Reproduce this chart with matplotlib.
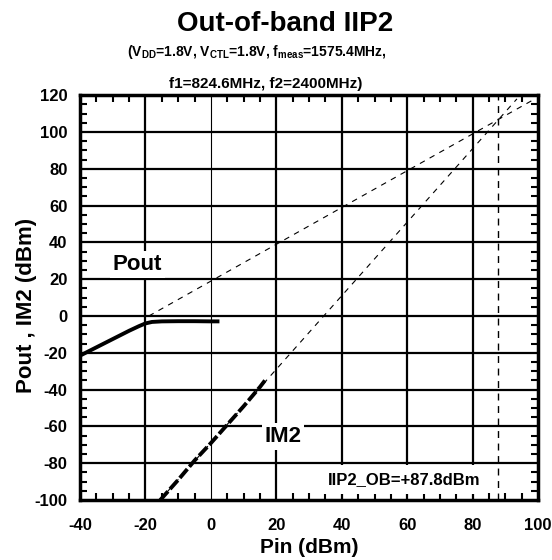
import numpy as np
import matplotlib.pyplot as plt
from matplotlib.ticker import MultipleLocator

plt.rcParams['font.family'] = ['Liberation Sans', 'DejaVu Sans']
plt.rcParams['font.weight'] = 'bold'
plt.rcParams['axes.unicode_minus'] = False
plt.rcParams['mathtext.fontset'] = 'custom'
plt.rcParams['mathtext.rm'] = 'Liberation Sans:bold'
plt.rcParams['mathtext.bf'] = 'Liberation Sans:bold'
plt.rcParams['mathtext.default'] = 'bf'

# --- Data ---
pout_pin = [-40, -35, -30, -25, -22, -20, -18, -15, -10, -5, 0, 2]
pout_meas = [-21.5, -17, -12.5, -8, -5.5, -4, -3.2, -2.9, -2.8, -2.8, -2.9, -2.9]

im2_pin = [-15.5, -10, -5, 0, 5, 10, 15, 16.5]
im2_meas = [-100, -89, -78.5, -69, -59, -49, -38.5, -35]

pout_ext_pin = [-19, 98]
pout_ext = [0, 117]
im2_ext_pin = [-15.6, 93.5]
im2_ext = [-100, 118]

iip2 = 87.8

# --- Plotting ---
fig = plt.figure(figsize=(5.52, 5.60), dpi=100)
ax = fig.add_axes([0.145, 0.107, 0.830, 0.723])

ax.set_xlim(-40, 100)
ax.set_ylim(-100, 120)
ax.xaxis.set_major_locator(MultipleLocator(20))
ax.xaxis.set_minor_locator(MultipleLocator(5))
ax.yaxis.set_major_locator(MultipleLocator(20))
ax.yaxis.set_minor_locator(MultipleLocator(5))

for v in range(-20, 100, 20):
    ax.axvline(v, color='black', lw=0.8 if v == 0 else 1.6, zorder=1)
for v in range(-80, 120, 20):
    ax.axhline(v, color='black', lw=1.6, zorder=1)

ax.tick_params(which='both', direction='in', top=True, right=True,
               labelsize=12, width=1.5)
ax.tick_params(which='major', length=0)
ax.tick_params(axis='x', which='major', pad=13)
ax.tick_params(axis='y', which='major', pad=9)
ax.tick_params(which='minor', length=5)
for s in ax.spines.values():
    s.set_linewidth(2.5)
    s.set_zorder(5)

ax.plot(pout_ext_pin, pout_ext, color='black', lw=0.8, ls=(0, (5, 5)), zorder=2)
ax.plot(im2_ext_pin, im2_ext, color='black', lw=0.8, ls=(0, (5, 5)), zorder=2)
ax.axvline(iip2, color='black', lw=1.0, ls=(0, (5, 4)), zorder=4)

ax.plot(pout_pin, pout_meas, color='black', lw=2.8, zorder=3)
ax.plot(im2_pin, im2_meas, color='black', lw=2.8, ls=(0, (3, 0.8)), zorder=3)

box = dict(facecolor='white', edgecolor='none', pad=2)
ax.text(-22.5, 28, 'Pout', fontsize=16, ha='center', va='center', bbox=box, zorder=3)
ax.text(22, -65.5, 'IM2', fontsize=16, ha='center', va='center', bbox=box, zorder=3)
ax.text(59, -89, 'IIP2_OB=+87.8dBm', fontsize=12, ha='center', va='center',
        bbox=dict(facecolor='white', edgecolor='none', pad=5), zorder=3)

ax.set_xlabel('Pin (dBm)', fontsize=15, fontweight='bold', va='center')
ax.set_ylabel('Pout , IM2 (dBm)', fontsize=16, fontweight='bold', va='center')
ax.xaxis.set_label_coords(0.5, -0.116)
ax.yaxis.set_label_coords(-0.116, 0.48)

fig.text(0.516, 0.958, 'Out-of-band IIP2', fontsize=20, ha='center', va='center')
fig.text(0.466, 0.908, '(V$_{DD}$=1.8V, V$_{CTL}$=1.8V, f$_{meas}$=1575.4MHz,',
         fontsize=10, ha='center', va='center')
fig.text(0.481, 0.85, 'f1=824.6MHz, f2=2400MHz)', fontsize=11, ha='center', va='center')

fig.savefig('out.png', dpi=100)
